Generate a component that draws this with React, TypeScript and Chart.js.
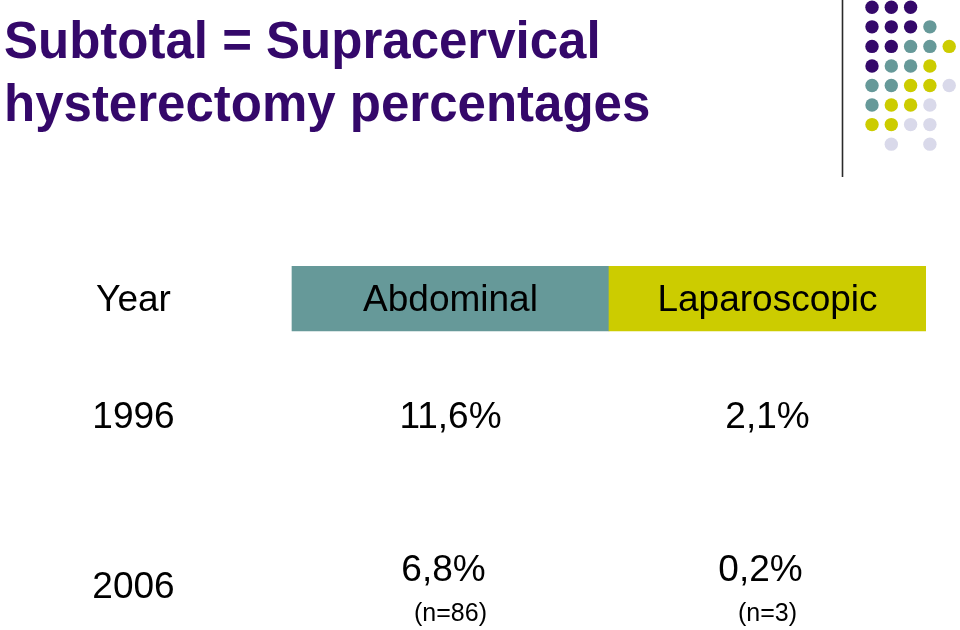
import React, { useEffect, useRef } from "react";
import { Chart, registerables } from "chart.js";

Chart.register(...registerables);

// ---- data ----
const TITLE_LINES = ["Subtotal = Supracervical", "hysterectomy percentages"];
const COLUMNS = ["Year", "Abdominal", "Laparoscopic"];
const YEARS = ["1996", "2006"];
const ABDOMINAL = [11.6, 6.8];
const LAPAROSCOPIC = [2.1, 0.2];
const ABDOMINAL_N: (number | null)[] = [null, 86];
const LAPAROSCOPIC_N: (number | null)[] = [null, 3];

// ---- styling / layout ----
const FONT = "'Liberation Sans', Arial, sans-serif";
const PURPLE = "#34086a";
const TEAL = "#669999";
const OLIVE = "#cccc00";
const LAVENDER = "#d9d9ea";
const HEADER_COLORS = [TEAL, OLIVE];
const HEADER_ROW_CENTER = 0.53;
const ROW_POS = [2.336, 4.946];
const VALUE_DY = -0.256;
const N_DY = 0.404;
const VALUE_NUDGE = -7;
const DOT_ROWS = ["PPP..", "PPPT.", "PPTTY", "PTTY.", "TTYYL", "TYYL.", "YYLL.", ".L.L."];
const DOT_COLORS: Record<string, string> = { P: PURPLE, T: TEAL, Y: OLIVE, L: LAVENDER };

const fmtPct = (v: number) => v.toFixed(1).replace(".", ",") + "%";

const decorPlugin = {
  id: "decor",
  beforeDraw(chart: any) {
    const ctx = chart.ctx;
    ctx.save();
    ctx.strokeStyle = "#2a2a2a";
    ctx.lineWidth = 1.6;
    ctx.beginPath();
    ctx.moveTo(842.5, 0);
    ctx.lineTo(842.5, 177);
    ctx.stroke();
    DOT_ROWS.forEach((row, r) => {
      row.split("").forEach((c, k) => {
        if (c === ".") return;
        ctx.fillStyle = DOT_COLORS[c];
        ctx.beginPath();
        ctx.arc(872 + k * 19.3, 7.3 + r * 19.55, 6.7, 0, Math.PI * 2);
        ctx.fill();
      });
    });
    ctx.restore();
  },
};

const tablePlugin = {
  id: "tableText",
  afterDatasetsDraw(chart: any) {
    const { ctx } = chart;
    const x = chart.scales.x;
    const y = chart.scales.y;
    const colX = (i: number) => x.getPixelForValue(i + 0.5);
    ctx.save();
    ctx.fillStyle = "#000";
    ctx.textAlign = "center";
    ctx.textBaseline = "middle";
    ctx.font = `37px ${FONT}`;
    COLUMNS.forEach((c, i) => ctx.fillText(c, colX(i), y.getPixelForValue(HEADER_ROW_CENTER)));
    YEARS.forEach((yr, r) => {
      const rowY = y.getPixelForValue(ROW_POS[r]);
      ctx.font = `37px ${FONT}`;
      ctx.fillText(yr, colX(0), rowY);
      const cells: [number, number | null][] = [
        [ABDOMINAL[r], ABDOMINAL_N[r]],
        [LAPAROSCOPIC[r], LAPAROSCOPIC_N[r]],
      ];
      cells.forEach(([v, n], j) => {
        const cx = colX(j + 1);
        if (n == null) {
          ctx.font = `37px ${FONT}`;
          ctx.fillText(fmtPct(v), cx, rowY);
        } else {
          ctx.font = `37px ${FONT}`;
          ctx.fillText(fmtPct(v), cx + VALUE_NUDGE, y.getPixelForValue(ROW_POS[r] + VALUE_DY));
          ctx.font = `25px ${FONT}`;
          ctx.fillText(`(n=${n})`, cx, y.getPixelForValue(ROW_POS[r] + N_DY));
        }
      });
    });
    ctx.restore();
  },
};

export default function App() {
  const ref = useRef<HTMLCanvasElement | null>(null);
  useEffect(() => {
    if (!ref.current) return;
    const chart = new Chart(ref.current, {
      type: "bar",
      data: {
        datasets: [
          {
            data: COLUMNS.slice(1).map((_, i) => ({ x: i + 1.5, y: [0, 1] })) as any,
            backgroundColor: HEADER_COLORS,
            borderWidth: 0,
            barThickness: "flex",
            barPercentage: 1,
            categoryPercentage: 1,
          } as any,
        ],
      },
      options: {
        responsive: false,
        animation: false,
        events: [],
        layout: { padding: { left: 4, right: 34, top: 0, bottom: 0 } },
        plugins: {
          legend: { display: false },
          tooltip: { enabled: false },
          title: {
            display: true,
            text: TITLE_LINES,
            align: "start",
            color: PURPLE,
            font: { family: FONT, size: 51, weight: "bold", lineHeight: 1.2255 },
            padding: { top: 13, bottom: 128 },
          },
        },
        scales: {
          x: { type: "linear", display: false, offset: false, min: 0.0915, max: 3 },
          y: { type: "linear", display: false, reverse: true, min: 0, max: 5.6 },
        },
      } as any,
      plugins: [decorPlugin, tablePlugin],
    });
    return () => chart.destroy();
  }, []);
  return (
    <div style={{ position: "fixed", left: 0, top: 0, width: 960, height: 630, background: "#fff" }}>
      <canvas ref={ref} width={960} height={630} style={{ display: "block" }} />
    </div>
  );
}
